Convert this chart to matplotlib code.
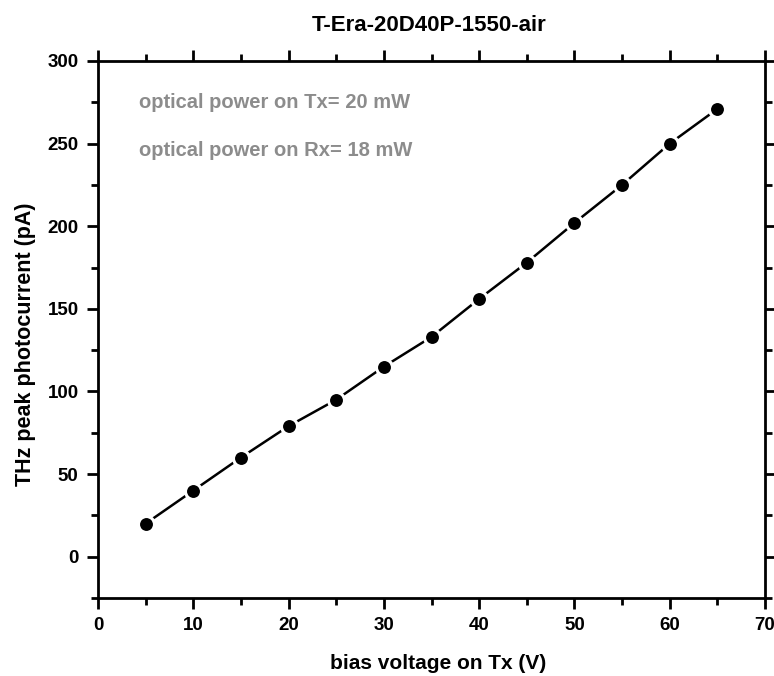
import matplotlib

matplotlib.use("Agg")
import matplotlib.pyplot as plt
from matplotlib.ticker import MultipleLocator

plt.rcParams["font.family"] = ["Liberation Sans", "DejaVu Sans"]
plt.rcParams["font.weight"] = "bold"

bias_v = [5, 10, 15, 20, 25, 30, 35, 40, 45, 50, 55, 60, 65]
photocurrent = [20, 40, 60, 79, 95, 115, 133, 156, 178, 202, 225, 250, 271]


def main():
    fig = plt.figure(figsize=(7.74, 6.76), dpi=100)
    ax = fig.add_axes([0.1266, 0.1154, 0.8618, 0.7944])

    ax.plot(bias_v, photocurrent, "-o", color="black", lw=1.8, ms=11.5,
            mfc="black", mec="white", mew=2.2)

    ax.set_xlim(0, 70)
    ax.set_ylim(-25, 300)
    ax.xaxis.set_major_locator(MultipleLocator(10))
    ax.xaxis.set_minor_locator(MultipleLocator(5))
    ax.yaxis.set_major_locator(MultipleLocator(50))
    ax.yaxis.set_minor_locator(MultipleLocator(25))
    ax.tick_params(which="both", direction="out", top=True, right=True,
                   labeltop=False, labelright=False, width=2)
    ax.tick_params(which="major", length=8, labelsize=13.5, pad=6)
    ax.tick_params(which="minor", length=5)
    for sp in ax.spines.values():
        sp.set_linewidth(2)

    ax.set_xlabel("bias voltage on Tx (V)", fontsize=15, fontweight="bold")
    ax.set_ylabel("THz peak photocurrent (pA)", fontsize=15.5, fontweight="bold")
    ax.xaxis.set_label_coords(0.566, 0.019, transform=fig.transFigure)
    ax.xaxis.label.set_va("center")
    ax.yaxis.set_label_coords(0.033, 0.491, transform=fig.transFigure)
    ax.yaxis.label.set_va("center")

    fig.text(0.555, 0.963, "T-Era-20D40P-1550-air", ha="center", va="center",
             fontsize=16, fontweight="bold")

    ax.text(0.061, 0.922, "optical power on Tx= 20 mW", transform=ax.transAxes,
            color="#8c8c8c", fontsize=14.5, fontweight="bold", va="center")
    ax.text(0.061, 0.834, "optical power on Rx= 18 mW", transform=ax.transAxes,
            color="#8c8c8c", fontsize=14.5, fontweight="bold", va="center")

    fig.savefig("out.png", dpi=100)


if __name__ == "__main__":
    main()
